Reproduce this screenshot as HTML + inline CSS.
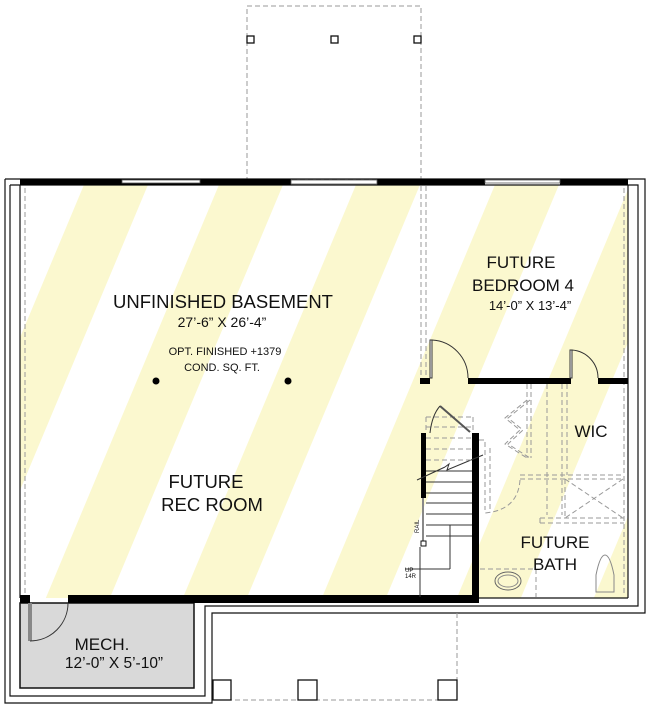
<!DOCTYPE html>
<html><head><style>
html,body{margin:0;padding:0;background:#fff;}
svg{display:block;}
text{font-family:"Liberation Sans",sans-serif;fill:#111;}
</style></head><body>
<svg width="650" height="706" viewBox="0 0 650 706" xmlns="http://www.w3.org/2000/svg">
<defs>
<clipPath id="c"><polygon points="24,185 628,185 628,598 20,598 20,185"/></clipPath>
</defs>
<g clip-path="url(#c)" fill="#fbf8cf">
<polygon points="-190,180 -126,180 -302,600 -366,600"/>
<polygon points="-53,180 11,180 -165,600 -229,600"/>
<polygon points="86,180 150,180 -26,600 -90,600"/>
<polygon points="221,180 285,180 109,600 45,600"/>
<polygon points="358,180 422,180 246,600 182,600"/>
<polygon points="497,180 561,180 385,600 321,600"/>
<polygon points="632,180 696,180 520,600 456,600"/>
<polygon points="769,180 833,180 657,600 593,600"/>
</g>
<rect x="247" y="6" width="174" height="174" fill="none" stroke="#999" stroke-dasharray="5,3"/>
<g fill="#fff" stroke="#111" stroke-width="1.3">
<rect x="247" y="36" width="7" height="7"/><rect x="331" y="36" width="7" height="7"/><rect x="414" y="36" width="7" height="7"/>
</g>
<g fill="none" stroke="#111" stroke-width="1.2">
<polyline points="5,179 645,179 645,613 212,613 212,703 5,703 5,179"/>
<polyline points="10,185 638,185 638,606 205,606 205,696 10,696 10,185"/>
<line x1="20" y1="185" x2="20" y2="598"/>
<line x1="628" y1="185" x2="628" y2="598"/>
<line x1="478" y1="598" x2="628" y2="598"/>
</g>
<g stroke="#999" stroke-dasharray="5,3" fill="none">
<line x1="25" y1="188" x2="25" y2="595"/>
<line x1="624" y1="188" x2="624" y2="595"/>
<line x1="421" y1="186" x2="421" y2="378"/>
<line x1="426" y1="186" x2="426" y2="378"/>
</g>
<rect x="20" y="603" width="174" height="85" fill="#d9d9d9" stroke="#111" stroke-width="1.5"/>
<rect x="28" y="603" width="4" height="38" fill="#888"/>
<path d="M30,641 A38,38 0 0 0 68,603" fill="none" stroke="#333"/>
<g fill="#000">
<rect x="20" y="179" width="271" height="6"/>
<rect x="377" y="179" width="108" height="6"/>
<rect x="560" y="179" width="68" height="6"/>
<rect x="20" y="595" width="10" height="8"/>
<rect x="68" y="595" width="411" height="8"/>
<rect x="420" y="378" width="10" height="6"/>
<rect x="468" y="378" width="103" height="6"/>
<rect x="598" y="378" width="30" height="6"/>
<rect x="421" y="433" width="5" height="65"/>
<rect x="472" y="433" width="7" height="170"/>
</g>
<g fill="#fff" stroke="#555" stroke-width="0.8">
<rect x="122" y="180" width="78" height="3"/>
<rect x="291" y="180" width="86" height="4"/>
<rect x="485" y="180" width="75" height="3"/>
</g>
<g fill="none" stroke="#333">
<rect x="430" y="340" width="2" height="38" fill="#fff"/>
<path d="M432,340 A38,38 0 0 1 468,378"/>
<rect x="570" y="350" width="2" height="28" fill="#fff"/>
<path d="M572,350 A28,28 0 0 1 598,378"/>
</g>
<g stroke="#333" stroke-width="1">
<line x1="426" y1="482" x2="472" y2="482"/><line x1="426" y1="493" x2="472" y2="493"/>
<line x1="426" y1="503" x2="472" y2="503"/><line x1="426" y1="514" x2="472" y2="514"/>
<line x1="426" y1="525" x2="472" y2="525"/><line x1="426" y1="536" x2="472" y2="536"/>
<line x1="426" y1="471" x2="472" y2="471"/>
<line x1="420" y1="547" x2="420" y2="597"/>
<line x1="450" y1="525" x2="450" y2="569"/>
<line x1="405" y1="569" x2="450" y2="569"/>
<line x1="417" y1="480" x2="445" y2="467"/><polyline points="445,467 449,464 447,470 483,455" fill="none"/>
</g>
<line x1="423" y1="498" x2="423" y2="541" stroke="#888" stroke-width="2"/>
<rect x="421" y="541" width="5" height="5" fill="#fff" stroke="#111"/>
<g stroke="#999" stroke-dasharray="5,3" fill="none">
<line x1="426" y1="417" x2="473" y2="417"/><line x1="426" y1="427" x2="473" y2="427"/>
<line x1="426" y1="438" x2="473" y2="438"/><line x1="426" y1="449" x2="473" y2="449"/>
<line x1="426" y1="460" x2="473" y2="460"/>
<line x1="426" y1="417" x2="426" y2="433"/><line x1="473" y1="417" x2="473" y2="433"/>
<polyline points="479,440 485,440 485,510"/>
<line x1="490" y1="448" x2="490" y2="512"/>
</g>
<path d="M440,406 L470,432" stroke="#555" stroke-width="2" fill="none"/>
<path d="M430,433 Q432,415 440,406" stroke="#333" fill="none"/>
<text x="405" y="572" font-size="6">UP</text>
<text x="405" y="578" font-size="6">14R</text>
<text x="0" y="0" font-size="6" transform="translate(419,533) rotate(-90)">RAIL</text>
<g stroke="#999" stroke-dasharray="5,3" fill="none">
<line x1="547" y1="384" x2="547" y2="515"/>
<line x1="562" y1="384" x2="562" y2="515"/>
<line x1="567" y1="384" x2="567" y2="475"/>
<line x1="527" y1="384" x2="527" y2="458"/><line x1="531" y1="384" x2="531" y2="458"/>
<line x1="520" y1="475" x2="624" y2="475"/>
<line x1="520" y1="479" x2="624" y2="479"/>
<line x1="565" y1="479" x2="565" y2="518"/>
<line x1="565" y1="479" x2="623" y2="518"/><line x1="623" y1="479" x2="565" y2="518"/>
<line x1="540" y1="518" x2="624" y2="518"/>
<line x1="540" y1="523" x2="624" y2="523"/>
<line x1="540" y1="518" x2="540" y2="523"/>
<line x1="480" y1="569" x2="536" y2="569"/>
<line x1="536" y1="569" x2="536" y2="597"/>
<polyline points="530,400 508,418 523,430 508,444 530,458"/>
<polyline points="527,400 505,418 520,430 505,444 527,458"/>
<path d="M520,480 Q518,510 485,513"/>
</g>
<ellipse cx="508" cy="581" rx="13" ry="9" fill="none" stroke="#666"/>
<ellipse cx="508" cy="581" rx="10" ry="6" fill="none" stroke="#888"/>
<path d="M596,592 L596,575 Q600,555 605,555 Q610,555 614,575 L614,592 Z" fill="none" stroke="#888"/>
<polyline points="457,613 457,700 228,700" fill="none" stroke="#999" stroke-dasharray="5,3"/>
<g fill="#fff" stroke="#111" stroke-width="1.3">
<rect x="213" y="680" width="18" height="20"/><rect x="298" y="680" width="19" height="20"/><rect x="438" y="680" width="19" height="20"/>
</g>
<circle cx="156" cy="381" r="3.5" fill="#000"/>
<circle cx="288" cy="381" r="3.5" fill="#000"/>
<text x="223" y="308" font-size="18.5" text-anchor="middle">UNFINISHED BASEMENT</text>
<text x="222" y="327" font-size="14" text-anchor="middle">27’-6” X 26’-4”</text>
<text x="225" y="355" font-size="11" text-anchor="middle">OPT. FINISHED +1379</text>
<text x="222" y="371" font-size="11" text-anchor="middle">COND. SQ. FT.</text>
<text x="206" y="488" font-size="18.5" text-anchor="middle">FUTURE</text>
<text x="212" y="511" font-size="18.5" text-anchor="middle">REC ROOM</text>
<text x="521" y="268" font-size="17" text-anchor="middle">FUTURE</text>
<text x="523" y="291" font-size="17" text-anchor="middle">BEDROOM 4</text>
<text x="530" y="310" font-size="13" text-anchor="middle">14’-0” X 13’-4”</text>
<text x="591" y="437" font-size="17" text-anchor="middle">WIC</text>
<text x="555" y="548" font-size="17" text-anchor="middle">FUTURE</text>
<text x="555" y="570" font-size="17" text-anchor="middle">BATH</text>
<text x="102" y="650" font-size="17" text-anchor="middle">MECH.</text>
<text x="114" y="668" font-size="15.5" text-anchor="middle">12’-0” X 5’-10”</text>
</svg>
</body></html>
